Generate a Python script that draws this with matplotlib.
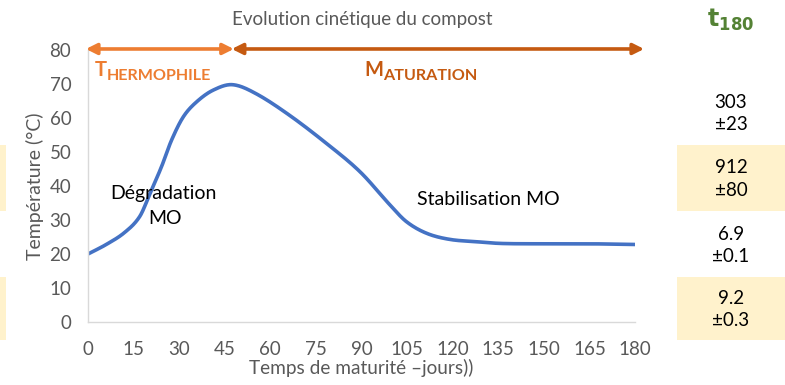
import numpy as np
import matplotlib.pyplot as plt
from matplotlib.patches import Rectangle

plt.rcParams['font.family'] = ['Lato', 'DejaVu Sans']

# temperature profile of the compost (days, °C)
days = [0, 6, 12, 17, 20.4, 24.2, 27.5, 31.4, 35.8, 41.2, 47.5, 55, 66, 78.5,
        89.5, 99.4, 104.8, 111.4, 119, 128, 136, 150, 165, 180]
temp = [20, 22.8, 26.3, 31, 37.8, 45.7, 53.5, 60.4, 64.8, 68.2, 69.8, 67.3, 61, 52.5,
        44.2, 34.4, 29.5, 26.1, 24.3, 23.6, 23.1, 23, 23, 22.8]

# phases
phase_names = ['THERMOPHILE', 'MATURATION']
phase_bounds = [(0, 48), (48, 183)]
phase_colors = ['#ED7D31', '#C55A11']

# right side table (t180)
t180_values = ['303\n±23', '912\n±80', '6.9\n±0.1', '9.2\n±0.3']
t180_shaded = [False, True, False, True]

xticks = np.arange(0, 181, 15)
yticks = np.arange(0, 81, 10)


def smooth(x, y, n=30):
    # cubic Hermite through the points, tangents from neighbouring points
    x = np.asarray(x, float); y = np.asarray(y, float)
    m = np.empty_like(y)
    m[1:-1] = (y[2:] - y[:-2]) / (x[2:] - x[:-2])
    m[0] = (y[1] - y[0]) / (x[1] - x[0])
    m[-1] = (y[-1] - y[-2]) / (x[-1] - x[-2])
    xs, ys = [], []
    t = np.linspace(0, 1, n, endpoint=False)
    for i in range(len(x) - 1):
        h = x[i+1] - x[i]
        h00 = 2*t**3 - 3*t**2 + 1; h10 = t**3 - 2*t**2 + t
        h01 = -2*t**3 + 3*t**2; h11 = t**3 - t**2
        xs.extend(x[i] + h*t)
        ys.extend(h00*y[i] + h10*h*m[i] + h01*y[i+1] + h11*h*m[i+1])
    xs.append(x[-1]); ys.append(y[-1])
    return np.array(xs), np.array(ys)


fig = plt.figure(figsize=(7.85, 3.85), dpi=100)
ax = fig.add_axes([88/785, 1-322/385, (635-88)/785, (322-50)/385])

sx, sy = smooth(days, temp)
ax.plot(sx, sy, color='#4472C4', lw=2.6, solid_capstyle='round')

ax.set_xlim(0, 180)
ax.set_ylim(0, 80)
ax.set_xticks(xticks)
ax.set_yticks(yticks)
ax.tick_params(length=0, labelsize=13.5, labelcolor='#595959')
ax.tick_params(axis='x', pad=14)
ax.tick_params(axis='y', pad=12)
for s in ['top', 'right']:
    ax.spines[s].set_visible(False)
for s in ['left', 'bottom']:
    ax.spines[s].set_color('#D9D9D9')
    ax.spines[s].set_linewidth(1)

ax.set_xlabel('Temps de maturité –jours))', fontsize=13.7, color='#595959', labelpad=0)
ax.set_ylabel('Température (°C)', fontsize=14, color='#595959', labelpad=4)
fig.text(362/785, 1-20/385, 'Evolution cinétique du compost', ha='center', va='center',
         fontsize=13.5, color='#595959')

# phase arrows with small-caps labels
label_x = [2.3, 91]
for name, (a, b), c, lx in zip(phase_names, phase_bounds, phase_colors, label_x):
    ax.annotate('', xy=(b, 80.3), xytext=(a - 0.7, 80.3), annotation_clip=False,
                arrowprops=dict(arrowstyle='<|-|>', color=c, lw=2.6,
                                mutation_scale=16, shrinkA=0, shrinkB=0))
    t1 = ax.text(lx, 72.4, name[0], fontsize=14.5, fontweight='bold', color=c,
                 ha='left', va='baseline')
    ax.annotate(name[1:], xy=(1, 0), xycoords=t1, fontsize=11.6, fontweight='bold',
                color=c, ha='left', va='baseline')

ax.text(24.8, 37.9, 'Dégradation', fontsize=14, color='black', ha='center', va='center')
ax.text(25.3, 30.5, 'MO', fontsize=14, color='black', ha='center', va='center')
ax.text(131.7, 36.1, 'Stabilisation MO', fontsize=14, color='black', ha='center', va='center')

# t180 column
fig.text(731/785, 1-20/385, r'$\mathbf{t}_{\mathbf{180}}$', ha='center', va='center',
         fontsize=17, color='#548235')
row_top = [80, 145, 212, 277]
row_h = [65, 66, 65, 63]
for val, shade, top, h in zip(t180_values, t180_shaded, row_top, row_h):
    if shade:
        fig.add_artist(Rectangle((677/785, 1-(top+h)/385), 108/785, h/385,
                                 transform=fig.transFigure, color='#FFF2CC', lw=0))
        fig.add_artist(Rectangle((0, 1-(top+h)/385), 6/785, h/385,
                                 transform=fig.transFigure, color='#FFF2CC', lw=0))
    fig.text(731/785, 1-(top+h/2+1)/385, val, ha='center', va='center',
             fontsize=13.5, color='black', linespacing=1.4)

fig.savefig('out.png', dpi=100)
